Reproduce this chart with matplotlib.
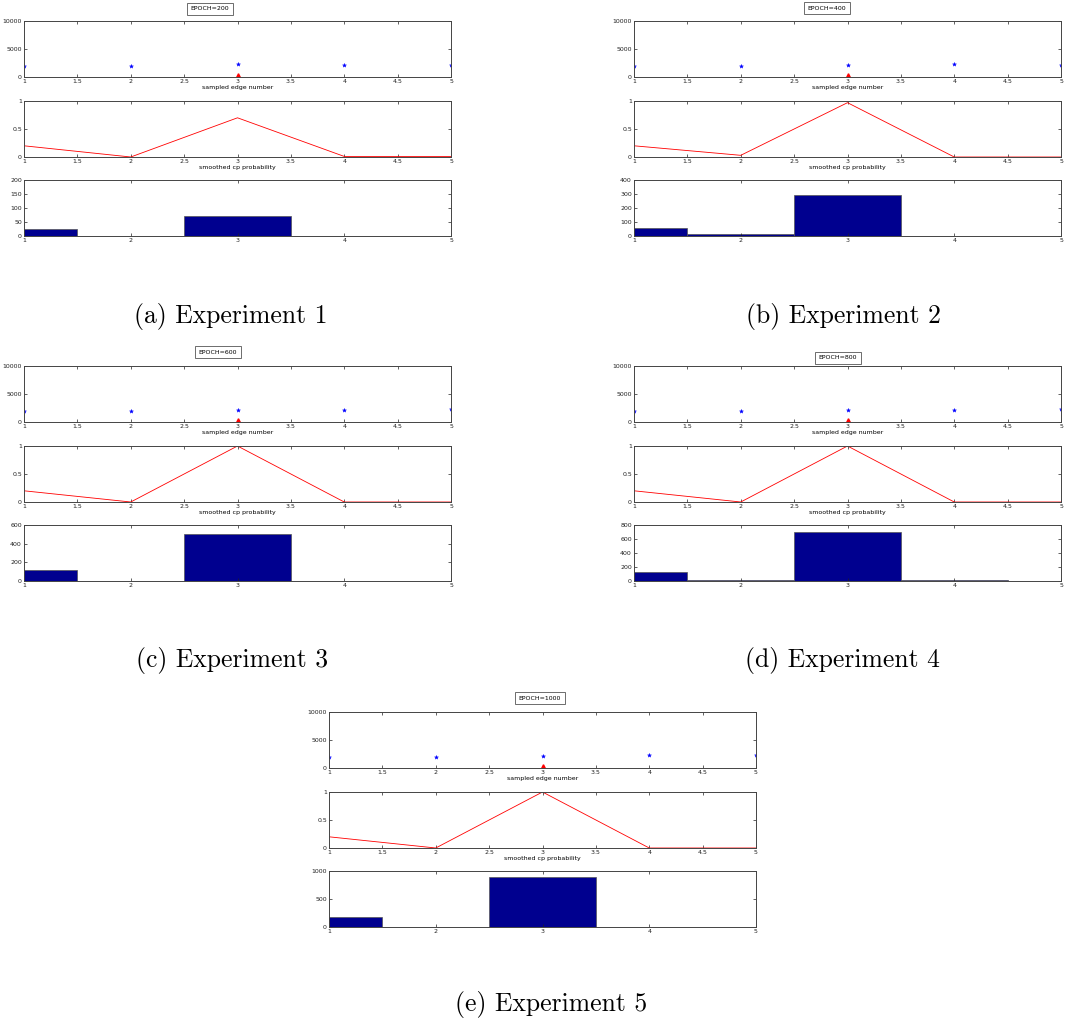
import numpy as np
import matplotlib.pyplot as plt

W, H = 1070, 1026

edges = [1, 2, 3, 4, 5]
epochs = ["EPOCH=200", "EPOCH=400", "EPOCH=600", "EPOCH=800", "EPOCH=1000"]
captions = ["(a) Experiment 1", "(b) Experiment 2", "(c) Experiment 3",
            "(d) Experiment 4", "(e) Experiment 5"]

samples = [
    [2000, 2000, 2300, 2200, 2200],
    [1900, 2000, 2200, 2300, 2200],
    [2000, 2000, 2200, 2200, 2300],
    [1900, 1900, 2200, 2200, 2300],
    [1900, 2000, 2200, 2300, 2300],
]
cp_value = [400, 400, 400, 400, 400]

smoothed = [
    [0.2, 0.0, 0.7, 0.01, 0.01],
    [0.2, 0.03, 0.97, 0.0, 0.0],
    [0.2, 0.0, 1.0, 0.0, 0.0],
    [0.2, 0.0, 1.0, 0.0, 0.0],
    [0.2, 0.0, 1.0, 0.0, 0.0],
]

counts = [
    [25, 0, 70, 1, 0],
    [60, 12, 290, 2, 1],
    [120, 0, 505, 0, 1],
    [130, 10, 700, 10, 2],
    [180, 0, 900, 5, 3],
]
count_ticks = [
    [0, 50, 100, 150, 200],
    [0, 100, 200, 300, 400],
    [0, 200, 400, 600],
    [0, 200, 400, 600, 800],
    [0, 500, 1000],
]

# panel layout in pixels: (axes left, top of first axes, epoch box x frac, box offset, caption x, caption y)
layout = [
    (24, 21, 0.436, 12, 231, 316),
    (634, 21, 0.452, 13, 843, 316),
    (24, 366, 0.454, 14, 232, 661),
    (634, 366, 0.478, 8, 842, 661),
    (329, 712, 0.494, 14, 551, 1005),
]
AW, AH = 427, 56


def px_axes(fig, left, top, w, h):
    return fig.add_axes([left / W, 1 - (top + h) / H, w / W, h / H])


def style(ax):
    for s in ax.spines.values():
        s.set_color('#444444')
        s.set_linewidth(0.7)
    ax.tick_params(direction='in', length=2.5, width=0.5, labelsize=4.5,
                   top=True, right=True, pad=1.5, colors='#222222')
    ax.set_xlim(1, 5)


fig = plt.figure(figsize=(W / 100, H / 100), dpi=100)

for i in range(5):
    left, top, bx, boff, cx, cy = layout[i]

    ax1 = px_axes(fig, left, top, AW, AH)
    ax1.plot(edges, samples[i], linestyle='none', marker='*', color='blue',
             markersize=3, markeredgewidth=0.3)
    ax1.plot([3], [cp_value[i]], linestyle='none', marker='^', color='red',
             markersize=2.5)
    style(ax1)
    ax1.set_ylim(0, 10000)
    ax1.set_yticks([0, 5000, 10000])
    ax1.set_xticks([1, 1.5, 2, 2.5, 3, 3.5, 4, 4.5, 5])
    ax1.set_xticklabels(['1', '1.5', '2', '2.5', '3', '3.5', '4', '4.5', '5'])
    ax1.set_xlabel('sampled edge number', fontsize=4.5, labelpad=1)
    fig.text((left + bx * AW) / W, 1 - (top - boff) / H, epochs[i],
             fontsize=4.5, ha='center', va='center',
             bbox=dict(boxstyle='square,pad=0.6', fc='white', ec='#555555', lw=0.6))

    ax2 = px_axes(fig, left, top + 80, AW, AH)
    ax2.plot(edges, smoothed[i], color='red', lw=0.6)
    style(ax2)
    ax2.set_ylim(0, 1)
    ax2.set_yticks([0, 0.5, 1])
    ax2.set_yticklabels(['0', '0.5', '1'])
    ax2.set_xticks([1, 1.5, 2, 2.5, 3, 3.5, 4, 4.5, 5])
    ax2.set_xticklabels(['1', '1.5', '2', '2.5', '3', '3.5', '4', '4.5', '5'])
    ax2.set_xlabel('smoothed cp probability', fontsize=4.5, labelpad=1)

    ax3 = px_axes(fig, left, top + 159, AW, AH)
    ax3.bar(edges, counts[i], width=1, color='#00008F', edgecolor='#555555',
            linewidth=0.5)
    style(ax3)
    ax3.set_ylim(0, count_ticks[i][-1])
    ax3.set_yticks(count_ticks[i])
    ax3.set_xticks(edges)

    fig.text(cx / W, 1 - cy / H, captions[i], fontsize=18.5,
             family='cmr10', ha='center', va='center')

fig.savefig('out.png', dpi=100)
